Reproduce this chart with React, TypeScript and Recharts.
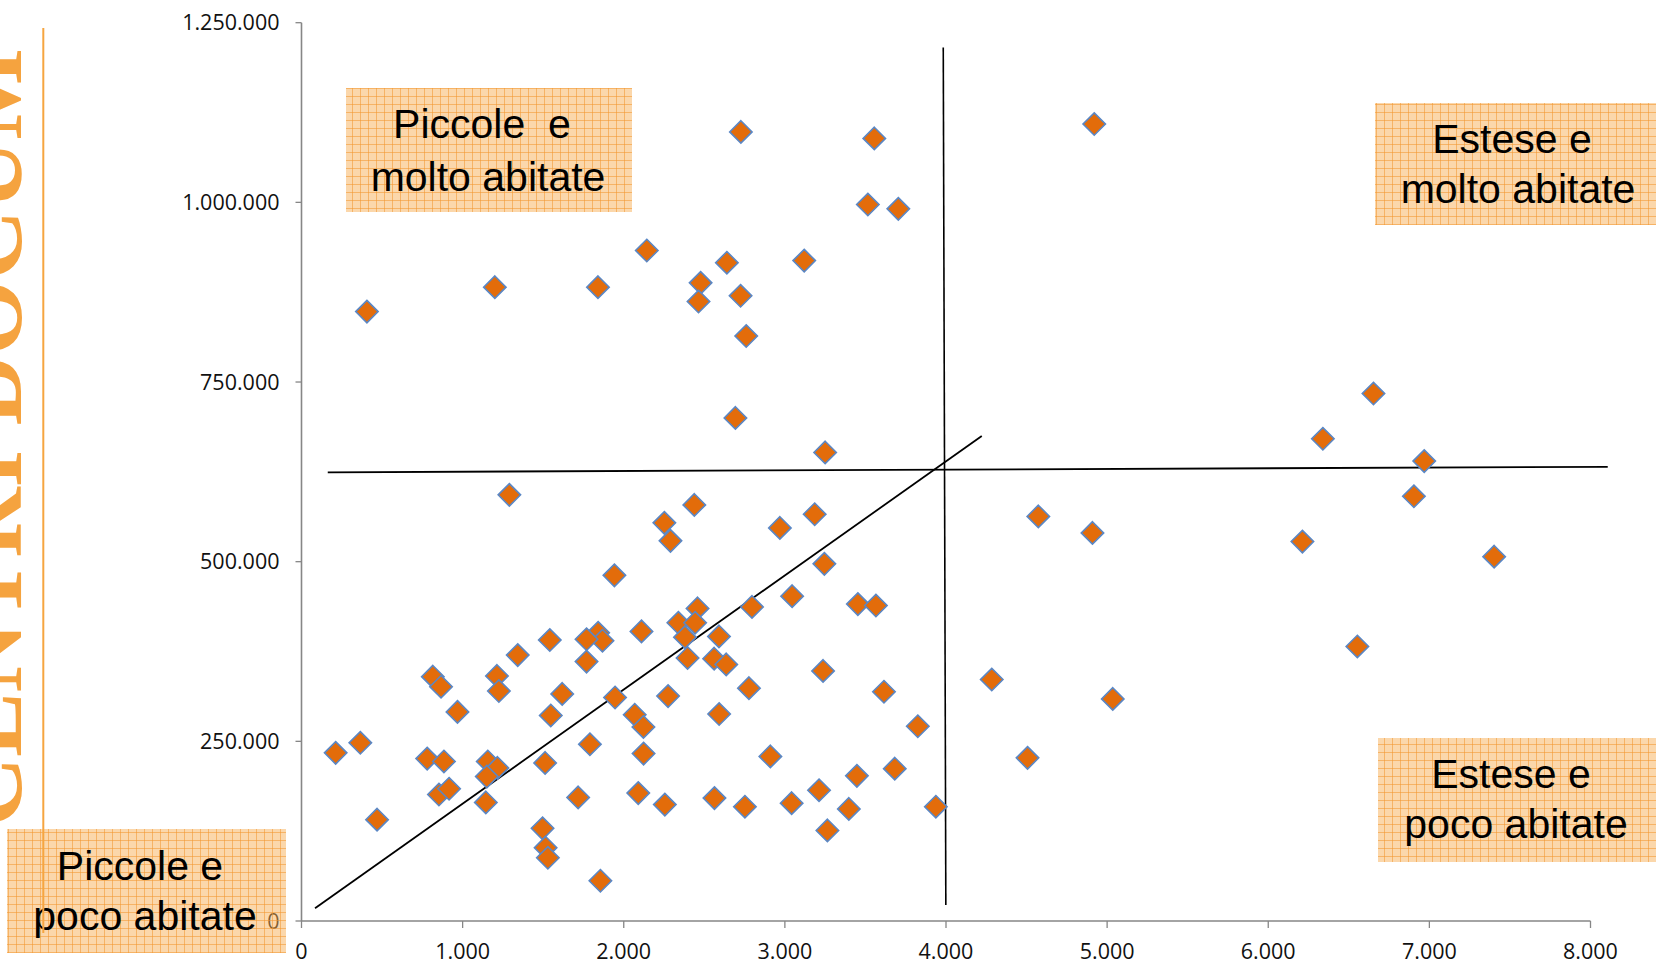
import React from 'react';
import { ScatterChart, Scatter, XAxis, YAxis, ReferenceLine } from 'recharts';

// Superficie (x) and abitanti (y) of each point
const superficie = [
  406, 1200, 1840, 2143, 2640, 2477, 2464, 2727, 2725, 2760,
  2693, 3120, 3555, 3515, 3704, 3250, 4920, 1290, 6653, 6339,
  6968, 6904, 6212, 7402, 6553, 4573, 4909, 4284, 5035, 4506,
  3937, 2438, 2252, 2290, 2969, 3185, 3245, 1942, 3045, 3453,
  3565, 2796, 2458, 2339, 2443, 2380, 2591, 2110, 1841, 1868,
  1769, 1541, 1769, 2396, 2561, 2636, 3237, 1342, 815, 866,
  1213, 1225, 1618, 1946, 2275, 2777, 3615, 968, 1547, 2068,
  2122, 2592, 3825, 212, 365, 780, 884, 1156, 1216, 1150,
  1512, 1790, 2123, 2910, 853, 916, 1144, 469, 1717, 2090,
  2255, 2563, 2752, 3042, 3212, 3447, 3682, 3397, 3264, 1496,
  1515, 1529, 1855,
];
const abitanti = [
  848000, 882000, 882000, 933000, 916000, 888000, 862000, 1098000, 870000, 814000,
  700000, 919000, 1089000, 997000, 991000, 652000, 1109000, 593000, 734000, 671000,
  640000, 591000, 528000, 507000, 382000, 563000, 540000, 336000, 309000, 227000,
  159000, 579000, 554000, 529000, 547000, 566000, 497000, 481000, 452000, 441000,
  439000, 437000, 435000, 415000, 415000, 395000, 396000, 403000, 401000, 390000,
  392000, 391000, 361000, 366000, 365000, 357000, 348000, 370000, 340000, 326000,
  341000, 320000, 316000, 311000, 313000, 324000, 319000, 291000, 286000, 287000,
  270000, 288000, 271000, 234000, 248000, 226000, 222000, 222000, 213000, 201000,
  220000, 246000, 233000, 229000, 176000, 184000, 165000, 141000, 172000, 178000,
  162000, 171000, 159000, 164000, 182000, 202000, 212000, 156000, 126000, 129000,
  102000, 88000, 56000,
];

const xTicks = [0, 1000, 2000, 3000, 4000, 5000, 6000, 7000, 8000];
const yTicks = [0, 250000, 500000, 750000, 1000000, 1250000];

// quadrant divider lines (data coordinates)
const lineOrizzontale = [{ x: 163, y: 624400 }, { x: 8107, y: 632000 }];
const lineVerticale = [{ x: 3983, y: 1215500 }, { x: 3999, y: 22300 }];
const lineDiagonale = [{ x: 84, y: 17800 }, { x: 4222, y: 674900 }];

const quadranti = [
  { lines: ['Piccole  e', 'molto abitate'] },
  { lines: ['Estese e', 'molto abitate'] },
  { lines: ['Estese e', 'poco abitate'] },
  { lines: ['Piccole e', 'poco abitate'] },
];

const titoloLaterale = 'CENTRI DOCUM';

const data = superficie.map((x, i) => ({ x, y: abitanti[i] }));

const fmt = (n: number) => String(n).replace(/\B(?=(\d{3})+(?!\d))/g, '.');

const Diamond = (props: any) => {
  const { cx, cy } = props;
  if (cx == null || cy == null) return null;
  const r = 11.2;
  return (
    <path
      d={`M${cx},${cy - r} L${cx + r},${cy} L${cx},${cy + r} L${cx - r},${cy} Z`}
      fill="#E36C0A"
      stroke="#5A87C5"
      strokeWidth={1.6}
    />
  );
};

const tickStyle = { fontFamily: '"Open Sans", sans-serif', fontSize: 21.5, fill: '#111' };

const boxes = [
  { x: 346, y: 88, w: 286, h: 124, lx: [482, 488], ly: [138, 191], q: 0 },
  { x: 1375, y: 103, w: 290, h: 122, lx: [1512, 1518], ly: [153, 203], q: 1 },
  { x: 1378, y: 738, w: 290, h: 124, lx: [1511, 1516], ly: [788, 838], q: 2 },
  { x: 7, y: 829, w: 279, h: 124, lx: [140, 145], ly: [880, 930], q: 3 },
];

export default function App() {
  return (
    <div style={{ position: 'absolute', left: 0, top: 0, width: 1656, height: 963, background: '#fff' }}>
      <ScatterChart
        width={1656}
        height={963}
        margin={{ top: 22.7, right: 65.5, bottom: 0, left: 0 }}
      >
        <XAxis
          type="number"
          dataKey="x"
          domain={[0, 8000]}
          ticks={xTicks}
          tickFormatter={fmt}
          height={42}
          tickSize={7}
          tickMargin={16}
          axisLine={{ stroke: '#868686', strokeWidth: 1.6 }}
          tickLine={{ stroke: '#868686', strokeWidth: 1.3 }}
          tick={tickStyle}
          interval={0}
        />
        <YAxis
          type="number"
          dataKey="y"
          domain={[0, 1250000]}
          ticks={yTicks}
          tickFormatter={fmt}
          width={301.5}
          tickSize={6}
          tickMargin={16}
          axisLine={{ stroke: '#868686', strokeWidth: 1.6 }}
          tickLine={{ stroke: '#868686', strokeWidth: 1.3 }}
          tick={tickStyle}
          interval={0}
        />
        <ReferenceLine segment={lineOrizzontale} stroke="#000" strokeWidth={1.8} ifOverflow="visible" />
        <ReferenceLine segment={lineVerticale} stroke="#000" strokeWidth={1.6} ifOverflow="visible" />
        <ReferenceLine segment={lineDiagonale} stroke="#000" strokeWidth={1.8} ifOverflow="visible" />
        <Scatter data={data} shape={Diamond} isAnimationActive={false} />
      </ScatterChart>
      <svg
        width={1656}
        height={963}
        style={{ position: 'absolute', left: 0, top: 0, pointerEvents: 'none' }}
      >
        <defs>
          <pattern id="griglia" patternUnits="userSpaceOnUse" width={8} height={8}>
            <rect width={8} height={8} fill="rgba(248,176,88,0.5)" />
            <path d="M0,0.5 H8 M0.5,0 V8" stroke="rgba(242,150,45,0.55)" strokeWidth={1} />
          </pattern>
        </defs>
        <text
          transform="translate(21,827) rotate(-90)"
          fontFamily='"Liberation Serif", "DejaVu Serif", serif'
          fontWeight="bold"
          fontSize={97}
          fill="#F5A33F"
        >
          {titoloLaterale}
        </text>
        {boxes.map((b, i) => (
          <g key={i}>
            <rect x={b.x} y={b.y} width={b.w} height={b.h} fill="url(#griglia)" />
            {quadranti[b.q].lines.map((t, j) => (
              <text
                key={j}
                x={b.lx[j]}
                y={b.ly[j]}
                textAnchor="middle"
                fontFamily='"Liberation Sans", Arial, sans-serif'
                fontSize={41}
                fill="#000"
                style={{ whiteSpace: 'pre' }}
              >
                {t}
              </text>
            ))}
          </g>
        ))}
        <line x1={43.3} y1={28} x2={43.3} y2={933} stroke="#F6A540" strokeWidth={2} />
      </svg>
    </div>
  );
}
